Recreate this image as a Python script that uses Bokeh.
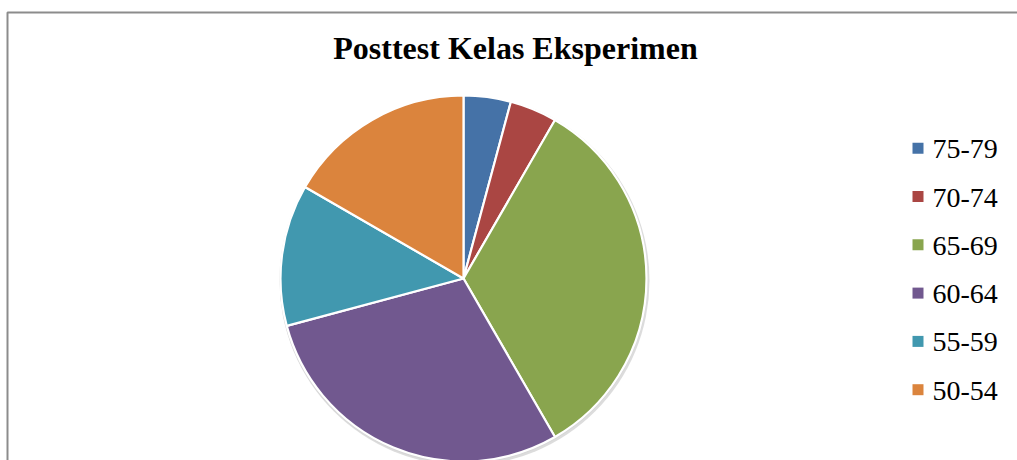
import math
from bokeh.plotting import figure
from bokeh.models import Range1d, ColumnDataSource
from bokeh.core.properties import value
from bokeh.embed import file_html
from bokeh.resources import INLINE

# ---- data ----
title_text = "Posttest Kelas Eksperimen"
categories = ["75-79", "70-74", "65-69", "60-64", "55-59", "50-54"]
frequencies = [1, 1, 8, 7, 3, 4]
colors = ["#4572A7", "#AA4643", "#89A54E", "#71588F", "#4198AF", "#DB843D"]

# ---- layout (pixel coords, y up) ----
W, H = 1017, 460
p = figure(width=W, height=H, output_backend="svg", toolbar_location=None,
           x_range=Range1d(0, W), y_range=Range1d(0, H),
           x_axis_location=None, y_axis_location=None, min_border=0,
           border_fill_color="white", background_fill_color="white")
p.grid.visible = False
p.outline_line_color = None

def sy(y_ref):
    return H - y_ref

def sx(x_ref):
    return x_ref

# frame border (chart area border, cropped on right & bottom)
p.line(x=[sx(7), sx(7), W + 5], y=[-5, sy(12), sy(12)], line_color="#8c8c8c", line_width=2)

# pie
cx, cy, r = sx(463), sy(278), 183
total = sum(frequencies)
starts, ends = [], []
acc = 0
for f in frequencies:
    starts.append(math.pi / 2 - 2 * math.pi * acc / total)
    acc += f
    ends.append(math.pi / 2 - 2 * math.pi * acc / total)

# soft shadow
p.circle(x=[cx + 1], y=[cy - 2], radius=r + 2, fill_color="#9a9a9a", fill_alpha=0.35, line_color=None)
p.circle(x=[cx], y=[cy - 1], radius=r + 1, fill_color="#d0d0d0", fill_alpha=0.5, line_color=None)

src = ColumnDataSource(dict(start=starts, end=ends, color=colors, cat=categories))
p.wedge(x=cx, y=cy, radius=r, start_angle="start", end_angle="end", direction="clock",
        fill_color="color", line_color="white", line_width=2.2, source=src)

# title
p.text(x=[sx(515)], y=[sy(59) + 12], text=[title_text], text_align="center", text_baseline="alphabetic",
       text_font=value("Liberation Serif"), text_font_style="bold", text_font_size="32px",
       text_color="black")

# legend
n = len(categories)
row_y = [sy(147.7 + 48.3 * i) for i in range(n)]
p.rect(x=[sx(917.5)] * n, y=row_y, width=11, height=11, fill_color=colors, line_color=None)
p.text(x=[sx(932)] * n, y=[yy - 1 for yy in row_y], text=categories,
       text_align="left", text_baseline="alphabetic",
       text_font=value("Liberation Serif"), text_font_size="28px", text_color="black")

open("out.html", "w").write(file_html(p, INLINE))
